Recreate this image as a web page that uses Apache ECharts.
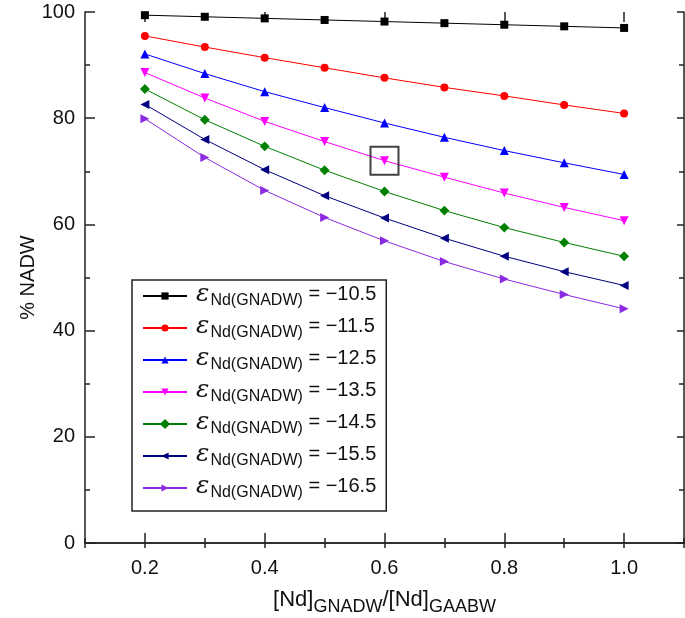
<!DOCTYPE html>
<html><head><meta charset="utf-8">
<script src="https://cdn.jsdelivr.net/npm/echarts@6/dist/echarts.min.js"></script>
<style>html,body{margin:0;padding:0;background:#fff}#c{width:685px;height:618px}</style>
</head><body><div id="c"></div>
<script>
const ratios = [0.2, 0.3, 0.4, 0.5, 0.6, 0.7, 0.8, 0.9, 1.0];
const epsLabels = ['−10.5', '−11.5', '−12.5', '−13.5', '−14.5', '−15.5', '−16.5'];
const s105 = [99.4, 99.1, 98.8, 98.5, 98.2, 97.9, 97.6, 97.3, 97.0];
const s115 = [95.5, 93.4, 91.4, 89.5, 87.6, 85.8, 84.2, 82.5, 80.9];
const s125 = [92.1, 88.4, 85.0, 82.0, 79.1, 76.4, 73.9, 71.6, 69.4];
const s135 = [88.6, 83.8, 79.4, 75.6, 72.0, 68.9, 65.9, 63.2, 60.7];
const s145 = [85.5, 79.7, 74.7, 70.2, 66.2, 62.6, 59.4, 56.6, 54.0];
const s155 = [82.6, 76.0, 70.3, 65.4, 61.2, 57.4, 54.0, 51.1, 48.5];
const s165 = [79.9, 72.6, 66.4, 61.3, 56.9, 53.0, 49.7, 46.8, 44.1];
const boxPoint = [0.6, 72.0];
const xTicks = [0.2, 0.4, 0.6, 0.8, 1.0];

const seriesValues = [s105, s115, s125, s135, s145, s155, s165];
const colors = ['#000000', '#ff0000', '#0000ff', '#ff00ff', '#008000', '#000080', '#8a2be2'];
const symbols = ['rect', 'circle', 'triangle', 'triangle', 'rect', 'triangle', 'triangle'];
const rotations = [0, 0, 0, 180, 45, 90, -90];
const sizes = [8, 8, 9, 9, 7, 9, 9];

const names = epsLabels.map(l => 'eps' + l);
const FONT = 'Liberation Sans, Arial, Helvetica, sans-serif';

const series = seriesValues.map((vals, i) => ({
  name: names[i],
  type: 'line',
  data: ratios.map((r, j) => [r, vals[j]]),
  symbol: symbols[i],
  symbolRotate: rotations[i],
  symbolSize: sizes[i],
  showAllSymbol: true,
  lineStyle: { color: colors[i], width: 1 },
  itemStyle: { color: colors[i], borderWidth: 0 },
  emphasis: { disabled: true },
  z: 3
}));
series.push({
  type: 'scatter',
  data: [boxPoint],
  symbol: 'rect',
  symbolSize: 28,
  itemStyle: { color: 'rgba(0,0,0,0)', borderColor: '#111', borderWidth: 2 },
  emphasis: { disabled: true },
  silent: true,
  z: 4
});

const chart = echarts.init(document.getElementById('c'));
chart.setOption({
  animation: false,
  backgroundColor: '#fff',
  grid: { left: 85, right: 1, top: 12, bottom: 75, containLabel: false, outerBoundsMode: 'none' },
  xAxis: [
    {
      type: 'value', position: 'bottom', min: 0.1, max: 1.1, interval: 0.1,
      axisLine: { show: true, onZero: false, lineStyle: { color: '#222', width: 1.5 } },
      axisTick: { show: true, inside: true, length: 5, lineStyle: { color: '#222', width: 1.5 } },
      axisLabel: {
        show: true, margin: 15, fontSize: 20, color: '#111', fontFamily: FONT,
        customValues: xTicks,
        formatter: v => v.toFixed(1)
      },
      splitLine: { show: false },
      name: '{a|[Nd]}{b|GNADW}{a|/[Nd]}{b|GAABW}',
      nameLocation: 'middle', nameGap: 46, nameMoveOverlap: false,
      nameTextStyle: {
        rich: {
          a: { fontSize: 22, color: '#111', fontFamily: FONT, verticalAlign: 'top', lineHeight: 30 },
          b: { fontSize: 18, color: '#111', fontFamily: FONT, verticalAlign: 'top', lineHeight: 30, padding: [9, 0, 0, 0] }
        }
      }
    },
    {
      type: 'value', position: 'bottom', min: 0.1, max: 1.1, interval: 0.1,
      axisLine: { show: false },
      axisTick: { show: true, inside: true, length: 10, customValues: xTicks, lineStyle: { color: '#222', width: 1.5 } },
      axisLabel: { show: false },
      splitLine: { show: false }
    },
    {
      type: 'value', position: 'top', min: 0.1, max: 1.1, interval: 0.1,
      axisLine: { show: true, lineStyle: { color: '#222', width: 1.5 } },
      axisTick: { show: true, inside: true, length: 5, lineStyle: { color: '#222', width: 1.5 } },
      axisLabel: { show: false },
      splitLine: { show: false }
    },
    {
      type: 'value', position: 'top', min: 0.1, max: 1.1, interval: 0.1,
      axisLine: { show: false },
      axisTick: { show: true, inside: true, length: 10, customValues: xTicks, lineStyle: { color: '#222', width: 1.5 } },
      axisLabel: { show: false },
      splitLine: { show: false }
    }
  ],
  yAxis: [
    {
      type: 'value', position: 'left', min: 0, max: 100, interval: 20,
      axisLine: { show: true, lineStyle: { color: '#222', width: 1.5 } },
      axisTick: { show: true, inside: true, length: 10, lineStyle: { color: '#222', width: 1.5 } },
      minorTick: { show: true, splitNumber: 2, length: 5, lineStyle: { color: '#222', width: 1.5 } },
      axisLabel: { margin: 10, fontSize: 20, color: '#111', fontFamily: FONT },
      splitLine: { show: false },
      name: '% NADW', nameLocation: 'middle', nameGap: 47, nameMoveOverlap: false,
      nameTextStyle: { fontSize: 20, color: '#111', fontFamily: FONT }
    },
    {
      type: 'value', position: 'right', min: 0, max: 100, interval: 20,
      axisLine: { show: true, lineStyle: { color: '#222', width: 1.5 } },
      axisTick: { show: true, inside: true, length: 7, lineStyle: { color: '#222', width: 1.5 } },
      minorTick: { show: true, splitNumber: 2, length: 5, lineStyle: { color: '#222', width: 1.5 } },
      axisLabel: { show: false },
      splitLine: { show: false }
    }
  ],
  legend: {
    orient: 'vertical',
    left: 132, top: 280,
    padding: [2, 10, 10, 10],
    borderColor: '#222', borderWidth: 1.5,
    backgroundColor: '#fff',
    itemWidth: 44, itemHeight: 9,
    itemGap: 5,
    data: names,
    formatter: n => {
      const i = names.indexOf(n);
      return '{e|ε}{s|Nd(GNADW)}{n| = ' + epsLabels[i] + '}';
    },
    textStyle: {
      rich: {
        e: { fontSize: 25, fontFamily: 'DejaVu Serif, Liberation Serif, serif', fontStyle: 'italic', color: '#111', verticalAlign: 'top', lineHeight: 28, padding: [0, 1, 0, 4] },
        s: { fontSize: 16, fontFamily: FONT, color: '#111', verticalAlign: 'top', lineHeight: 28, padding: [11, 0, 0, 0] },
        n: { fontSize: 20, fontFamily: FONT, color: '#111', verticalAlign: 'top', lineHeight: 28, padding: [2, 0, 0, 0] }
      }
    }
  },
  series: series
});
</script>
</body></html>
